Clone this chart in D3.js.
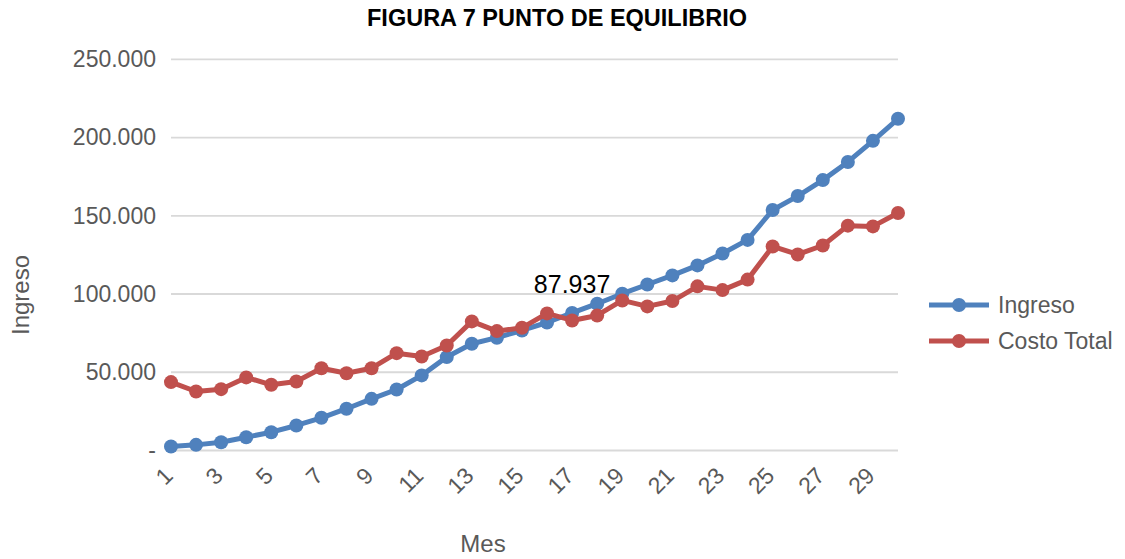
<!DOCTYPE html>
<html>
<head>
<meta charset="utf-8">
<script src="https://cdn.jsdelivr.net/npm/d3@7"></script>
<style>
  html, body { margin: 0; padding: 0; background: #fff; }
  svg { display: block; font-family: "Liberation Sans", Arial, sans-serif; }
</style>
</head>
<body>
<svg id="chart" width="1125" height="559"></svg>
<script>
const meses = d3.range(1, 31);
const ingreso = [2600, 3600, 5300, 8500, 11700, 16000, 20900, 26700, 33000, 39000,
  48000, 59700, 68200, 72100, 76700, 81800, 87937, 93800, 100200, 106100,
  111900, 118300, 125900, 134600, 153700, 162600, 172800, 184400, 197900, 212000];
const costoTotal = [43700, 37700, 39200, 46700, 42000, 44100, 52600, 49400, 52600, 62200,
  60100, 67100, 82500, 76300, 78400, 87600, 83100, 86300, 95900, 92100,
  95500, 104900, 102500, 109200, 130400, 125300, 131000, 143700, 143200, 151800];
const yTicks = [0, 50000, 100000, 150000, 200000, 250000];
const yTickLabels = ["-", "50.000", "100.000", "150.000", "200.000", "250.000"];
const xTickLabels = meses.filter(m => m % 2 === 1);
const seriesNames = ["Ingreso", "Costo Total"];
const colors = ["#4F81BD", "#C0504D"];
const dataLabel = { mes: 17, value: 87937, text: "87.937" };

const svg = d3.select("#chart");
const x = d3.scaleLinear().domain([1, 30]).range([171, 898]);
const y = d3.scaleLinear().domain([0, 250000]).range([450.5, 59.3]);

// title
svg.append("text").attr("x", 557).attr("y", 26).attr("text-anchor", "middle")
  .attr("font-size", 23.5).attr("font-weight", "bold").attr("fill", "#000")
  .text("FIGURA 7 PUNTO DE EQUILIBRIO");

// gridlines
svg.append("g").selectAll("line").data(yTicks).join("line")
  .attr("x1", 171).attr("x2", 898)
  .attr("y1", d => y(d)).attr("y2", d => y(d))
  .attr("stroke", "#D9D9D9").attr("stroke-width", 1.8);

// y axis
const yAxis = d3.axisLeft(y).tickValues(yTicks)
  .tickFormat((d, i) => yTickLabels[i]).tickSize(0).tickPadding(15);
const gy = svg.append("g").attr("transform", "translate(171,0)").call(yAxis);
gy.select(".domain").remove();
gy.selectAll("text").attr("font-size", 23).attr("fill", "#595959")
  .attr("font-family", "Liberation Sans, Arial, sans-serif");

// x axis
const xAxis = d3.axisBottom(x).tickValues(xTickLabels).tickSize(0).tickFormat(d3.format("d"));
const gx = svg.append("g").attr("transform", "translate(0,450.5)").call(xAxis);
gx.select(".domain").remove();
gx.selectAll("text")
  .attr("font-size", 23).attr("fill", "#595959")
  .attr("font-family", "Liberation Sans, Arial, sans-serif")
  .attr("text-anchor", "end")
  .attr("dy", "0.35em")
  .attr("y", 0)
  .attr("transform", "translate(-3,21) rotate(-45)");

// axis titles
svg.append("text").attr("x", 483).attr("y", 552).attr("text-anchor", "middle")
  .attr("font-size", 24).attr("fill", "#595959").text("Mes");
svg.append("text").attr("transform", "translate(29,295) rotate(-90)")
  .attr("text-anchor", "middle").attr("font-size", 24).attr("fill", "#595959").text("Ingreso");

// series
const allSeries = [ingreso, costoTotal];
const line = d3.line().x((d, i) => x(meses[i])).y(d => y(d));
allSeries.forEach((s, k) => {
  const g = svg.append("g");
  g.append("path").datum(s).attr("d", line).attr("fill", "none")
    .attr("stroke", colors[k]).attr("stroke-width", 5).attr("stroke-linejoin", "round");
  g.selectAll("circle").data(s).join("circle")
    .attr("cx", (d, i) => x(meses[i])).attr("cy", d => y(d)).attr("r", 7)
    .attr("fill", colors[k]);
});

// data label
svg.append("text").attr("x", x(dataLabel.mes)).attr("y", y(dataLabel.value) - 20)
  .attr("text-anchor", "middle").attr("font-size", 25).attr("fill", "#000")
  .text(dataLabel.text);

// legend
const legend = svg.append("g");
seriesNames.forEach((name, k) => {
  const ly = 305 + k * 36;
  legend.append("line").attr("x1", 929).attr("x2", 989).attr("y1", ly).attr("y2", ly)
    .attr("stroke", colors[k]).attr("stroke-width", 5);
  legend.append("circle").attr("cx", 959).attr("cy", ly).attr("r", 7).attr("fill", colors[k]);
  legend.append("text").attr("x", 998).attr("y", ly).attr("dy", "0.35em")
    .attr("font-size", 23).attr("fill", "#595959").text(name);
});
</script>
</body>
</html>
